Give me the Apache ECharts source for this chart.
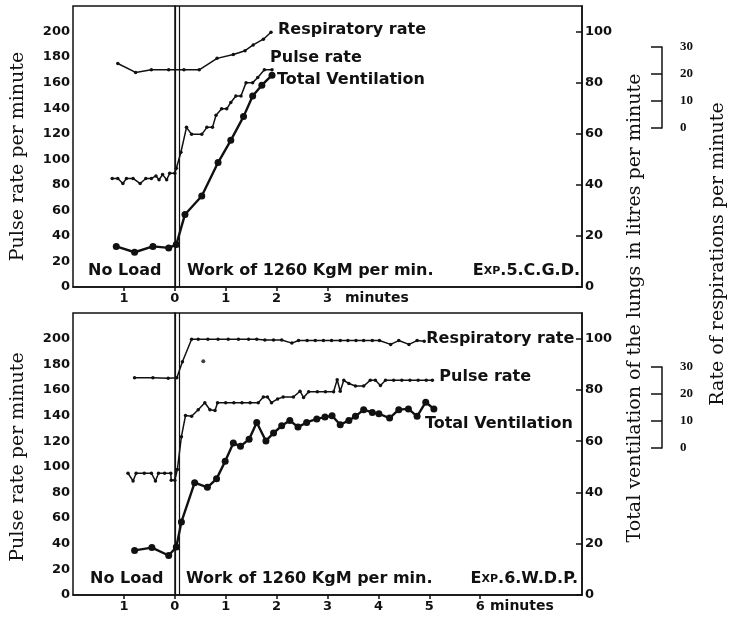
<!DOCTYPE html>
<html>
<head>
<meta charset="utf-8">
<script src="https://cdn.jsdelivr.net/npm/echarts@6/dist/echarts.min.js"></script>
<style>
  html, body { margin: 0; padding: 0; background: #fff; }
  #chart { width: 732px; height: 618px; }
</style>
</head>
<body>
<div id="chart"></div>
<script>
// Exp.5 C.G.D. -- [minutes, value]; resp + pulse in left-axis units, ventilation in litres
var topResp = [[-1.12,175],[-0.77,168],[-0.46,170],[-0.12,170],[0.18,170],[0.48,170],[0.83,179],[1.15,182],[1.38,185],[1.54,189.5],[1.74,194],[1.89,199.5]];
var topPulse = [[-1.23,85],[-1.12,85],[-1.02,81],[-0.95,85],[-0.82,85],[-0.68,81],[-0.57,85],[-0.46,85],[-0.37,87],[-0.31,84],[-0.24,88],[-0.16,84],[-0.1,89],[0,89],[0.03,93],[0.12,105.5],[0.23,125],[0.33,119.5],[0.53,119.5],[0.63,125],[0.74,125],[0.81,134.5],[0.92,139.5],[1.02,139.5],[1.1,144.5],[1.2,149.5],[1.3,149.5],[1.4,160],[1.53,160],[1.63,164],[1.76,170],[1.91,170]];
var topVent = [[-1.15,15.9],[-0.79,13.6],[-0.43,15.9],[-0.12,15.3],[0.03,16.6],[0.2,28.4],[0.53,35.6],[0.85,48.7],[1.1,57.4],[1.35,66.7],[1.53,74.8],[1.71,79],[1.91,82.9]];

// Exp.6 W.D.P.
var botResp = [[-0.79,169.5],[-0.43,169.5],[-0.13,169],[0.04,169.5],[0.15,182],[0.33,199.5],[0.46,199.5],[0.65,199.5],[0.85,199.5],[1.05,199.5],[1.25,199.5],[1.45,199.5],[1.61,199.5],[1.77,199],[1.94,199],[2.1,199],[2.3,196.5],[2.43,198.5],[2.6,198.5],[2.76,198.5],[2.92,198.5],[3.08,198.5],[3.25,198.5],[3.4,198.5],[3.56,198.5],[3.71,198.5],[3.88,198.5],[4.02,198.5],[4.24,195.5],[4.4,198.5],[4.6,195.5],[4.76,198.5],[4.9,198]];
var botPulse = [[-0.92,95],[-0.82,89],[-0.76,95],[-0.6,95],[-0.46,95],[-0.38,89],[-0.32,95],[-0.2,95],[-0.08,95],[-0.07,89.5],[0,89.5],[0.05,98],[0.13,123.5],[0.21,140],[0.33,139.5],[0.46,144.5],[0.59,150],[0.69,144.5],[0.79,144],[0.84,150],[1.0,150],[1.16,150],[1.32,150],[1.48,150],[1.64,150],[1.74,154.5],[1.82,154.5],[1.9,150],[2.02,153],[2.13,154.5],[2.33,154.5],[2.46,159],[2.53,154],[2.63,158.5],[2.8,158.5],[2.96,158.5],[3.12,158.5],[3.19,168],[3.25,159],[3.32,167.5],[3.42,165],[3.55,163],[3.71,163],[3.84,167.5],[3.94,167.5],[4.04,163.5],[4.14,167.5],[4.3,167.5],[4.46,167.5],[4.62,167.5],[4.78,167.5],[4.94,167.5],[5.06,167.5]];
var botVent = [[-0.79,17.4],[-0.45,18.5],[-0.12,15.4],[0.03,18.7],[0.13,28.5],[0.39,43.8],[0.64,42],[0.82,45.3],[0.99,52.2],[1.15,59.3],[1.29,58],[1.46,60.8],[1.61,67.3],[1.79,60.1],[1.94,63.2],[2.1,66],[2.26,68.1],[2.42,65.5],[2.59,67.3],[2.79,68.7],[2.95,69.4],[3.09,69.9],[3.25,66.4],[3.42,68.1],[3.55,69.7],[3.71,72.3],[3.88,71.2],[4.01,70.7],[4.22,69],[4.4,72.3],[4.59,72.6],[4.76,69.7],[4.93,75.2],[5.09,72.6]];
var botStray = [[0.56,182.4]];

// ticks
var pulseTicks = [0,20,40,60,80,100,120,140,160,180,200];
var ventTicks = [0,20,40,60,80,100];
var respScaleTicks = [0,10,20,30];
var topMinuteTicks = [-1,0,1,2,3];
var botMinuteTicks = [-1,0,1,2,3,4,5,6];
var workStart = [0, 0.08];   // double rule where the work begins

var SANS = 'DejaVu Sans';
var SERIF = 'DejaVu Serif';
var INK = '#111';

function minuteAxis(idx, ticks) {
    return {
        type: 'value', gridIndex: idx, min: -2, max: 8,
        axisLine: {show: true, lineStyle: {color: INK, width: 1.5}},
        axisTick: {show: true, customValues: ticks, length: 4, lineStyle: {color: INK, width: 1.5}},
        splitLine: {show: false},
        axisLabel: {
            customValues: ticks, margin: 5, color: INK,
            fontFamily: SANS, fontWeight: 'bold', fontSize: 13,
            formatter: function (v) { return String(Math.abs(v)); }
        }
    };
}

function pulseAxis(idx, shift) {
    return {
        type: 'value', gridIndex: idx, position: 'left', min: 0, max: 220, interval: 20,
        name: 'Pulse rate per minute', nameLocation: 'middle', nameGap: 45, nameRotate: 90,
        nameTextStyle: {fontFamily: SERIF, fontSize: 19, color: INK, padding: [0, shift, 0, 0]},
        axisLine: {show: true, lineStyle: {color: INK, width: 1.5}},
        axisTick: {show: false},
        splitLine: {show: false},
        axisLabel: {customValues: pulseTicks, margin: 3, color: INK, fontFamily: SANS, fontWeight: 'bold', fontSize: 13}
    };
}

function ventAxis(idx) {
    return {
        type: 'value', gridIndex: idx, position: 'right', min: 0, max: 110,
        axisLine: {show: true, lineStyle: {color: INK, width: 1.5}},
        axisTick: {show: true, inside: true, length: 6, customValues: ventTicks, lineStyle: {color: INK, width: 1.5}},
        splitLine: {show: false},
        axisLabel: {customValues: ventTicks, margin: 3, color: INK, fontFamily: SANS, fontWeight: 'bold', fontSize: 13}
    };
}

function respScaleAxis(idx) {
    return {
        type: 'value', gridIndex: idx, position: 'right', min: 0, max: 30,
        axisLine: {show: true, lineStyle: {color: INK, width: 1.5}},
        axisTick: {show: true, inside: true, length: 11, customValues: respScaleTicks, lineStyle: {color: INK, width: 1.5}},
        splitLine: {show: false},
        axisLabel: {customValues: respScaleTicks, margin: 5, color: INK, fontFamily: 'Liberation Serif', fontWeight: 'bold', fontSize: 13}
    };
}

function hiddenX(idx) {
    return {type: 'value', gridIndex: idx, min: 0, max: 1, show: false};
}

function thinLine(name, data, xi, yi, label, offset) {
    return {
        name: name, type: 'line', xAxisIndex: xi, yAxisIndex: yi, data: data,
        symbol: 'circle', symbolSize: 3.5, showSymbol: true,
        lineStyle: {color: INK, width: 1.5}, itemStyle: {color: INK},
        animation: false, silent: true,
        endLabel: {show: true, formatter: label, distance: 5, offset: offset,
            color: INK, fontFamily: SANS, fontWeight: 'bold', fontSize: 16}
    };
}

function ventLine(name, data, xi, yi, offset) {
    var s = thinLine(name, data, xi, yi, 'Total Ventilation', offset);
    s.symbolSize = 7;
    s.lineStyle.width = 2.4;
    s.markLine = {
        silent: true, symbol: 'none', animation: false,
        label: {show: false},
        lineStyle: {color: INK, width: 1.2, type: 'solid'},
        data: workStart.map(function (x) { return {xAxis: x}; })
    };
    return s;
}

function note(text, x, y, size) {
    return {
        type: 'text', x: x, y: y, silent: true,
        style: {text: text, fill: INK, font: 'bold ' + (size || 16) + 'px "' + SANS + '"',
            align: 'left', verticalAlign: 'middle', textAlign: 'left', textVerticalAlign: 'middle'}
    };
}

function expNote(num, who, x, y) {
    return {
        type: 'text', x: x, y: y, silent: true,
        style: {text: '{a|E}{b|XP}{a|.' + num + '.' + who + '}', fill: INK,
            align: 'right', verticalAlign: 'middle', textAlign: 'right', textVerticalAlign: 'middle',
            rich: {
                a: {fontFamily: SANS, fontWeight: 'bold', fontSize: 16, fill: INK},
                b: {fontFamily: SANS, fontWeight: 'bold', fontSize: 11, fill: INK}
            }}
    };
}

function sideTitle(text, x, y) {
    return {
        type: 'text', x: x, y: y, rotation: Math.PI / 2, silent: true,
        style: {text: text, fill: INK, font: '19px "' + SERIF + '"',
            align: 'center', verticalAlign: 'middle', textAlign: 'center', textVerticalAlign: 'middle'}
    };
}

var frame = {show: true, borderColor: INK, borderWidth: 1.5, backgroundColor: 'transparent'};

var option = {
    backgroundColor: '#fff',
    animation: false,
    grid: [
        Object.assign({left: 73, top: 6, width: 509, height: 281}, frame),
        Object.assign({left: 73, top: 313, width: 509, height: 282}, frame),
        {left: 662, top: 47, width: 13, height: 81},
        {left: 662, top: 367, width: 13, height: 81}
    ],
    xAxis: [minuteAxis(0, topMinuteTicks), minuteAxis(1, botMinuteTicks), hiddenX(2), hiddenX(3)],
    yAxis: [pulseAxis(0, 20), ventAxis(0), pulseAxis(1, 6), ventAxis(1), respScaleAxis(2), respScaleAxis(3)],
    series: [
        thinLine('Respiratory rate', topResp, 0, 0, 'Respiratory rate', [2, -2]),
        thinLine('Pulse rate', topPulse, 0, 0, 'Pulse rate', [-7, -12]),
        ventLine('Total Ventilation', topVent, 0, 1, [0, 5]),
        thinLine('Respiratory rate', botResp, 1, 2, 'Respiratory rate', [-3, -2]),
        thinLine('Pulse rate', botPulse, 1, 2, 'Pulse rate', [2, -3]),
        ventLine('Total Ventilation', botVent, 1, 3, [-14, 15]),
        {type: 'scatter', xAxisIndex: 1, yAxisIndex: 2, data: botStray, symbolSize: 4,
            itemStyle: {color: INK}, silent: true, animation: false}
    ],
    graphic: [
        note('No Load', 88, 271),
        note('Work of 1260 KgM per min.', 187, 271),
        expNote(5, 'C.G.D.', 580, 271),
        note('No Load', 90, 579),
        note('Work of 1260 KgM per min.', 186, 579),
        expNote(6, 'W.D.P.', 578, 579),
        note('minutes', 345, 298, 14),
        note('minutes', 490, 606, 14),
        sideTitle('Total ventilation of the lungs in litres per minute', 635, 308),
        sideTitle('Rate of respirations per minute', 718, 254)
    ]
};

var myChart = echarts.init(document.getElementById('chart'), null, {renderer: 'canvas'});
myChart.setOption(option);
</script>
</body>
</html>
